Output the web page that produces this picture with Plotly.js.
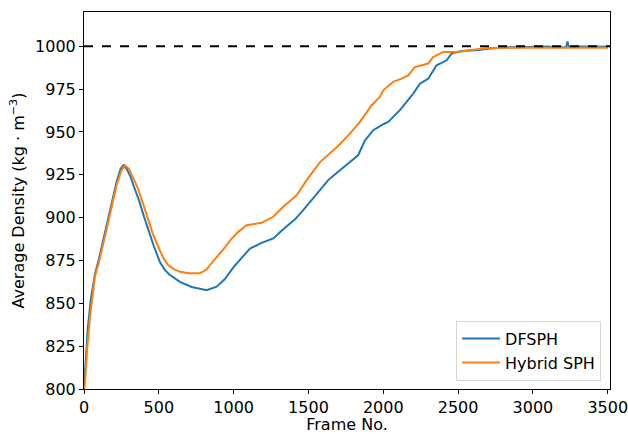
<!DOCTYPE html>
<html>
<head>
<meta charset="utf-8">
<script src="https://cdn.plot.ly/plotly-3.0.1.min.js"></script>
<style>html,body{margin:0;padding:0;background:#fff;}#chart{width:628px;height:434px;}</style>
</head>
<body>
<div id="chart"></div>
<script>
const dfsphFrames = [0,10,25,45,73,100,140,180,218,245,263,285,310,334,370,401,435,468,508,540,570,641,720,820,886,940,998,1050,1109,1187,1243,1265,1309,1354,1410,1465,1555,1632,1710,1777,1832,1877,1933,2000,2033,2111,2200,2245,2300,2356,2423,2456,2490,2560,2623,2712,2800,2900,3000,3050,3100,3150,3200,3222,3231,3240,3300,3400,3500];
const dfsphDensity = [800,815,835,852,867,876,891,907,921,928.5,930.5,928.5,924,918,909.5,900.6,891.5,883,874,869.5,866.8,862.5,859.5,857.7,859.7,864,871,876,882,885.3,887.3,887.9,891.5,894.6,899,904.4,914,921.9,927.7,932.5,936.4,945,951,954.5,955.9,962.7,972.4,978.2,981.1,988.9,991.8,995.7,996.7,997.5,997.7,998.7,999.3,999.5,999.7,999.4,999.8,999.4,999.7,999.5,1002.8,999.6,999.8,999.7,999.7];

const hybridFrames = [0,7,20,40,73,100,140,180,218,250,274,300,330,356,390,423,460,501,530,560,600,641,700,775,820,842,880,931,980,1031,1087,1187,1265,1331,1421,1488,1577,1640,1700,1777,1844,1922,1977,2000,2066,2122,2167,2211,2300,2333,2400,2490,2579,2668,2800,3000,3200,3500];
const hybridDensity = [800,803,822,842,865.5,874,889,905,919,927.5,930.6,928.5,922.5,918,909.5,900.6,890.5,882,876.5,872.5,870,868.4,867.6,867.5,869.8,872.3,876,881.5,887,891.7,895.6,897,900.5,906.3,913,921.9,932.4,937.5,942,949,955.9,965.6,970.4,974.3,979.2,981.1,983,987.9,989.9,993.7,996.7,996.7,997.7,998.7,999.2,999.3,999.2,999.2];

const seriesNames = ["DFSPH", "Hybrid SPH"];
const referenceDensity = 1000;
const xTicks = [0,500,1000,1500,2000,2500,3000,3500];
const yTicks = [800,825,850,875,900,925,950,975,1000];

const data = [
  {x: dfsphFrames, y: dfsphDensity, name: seriesNames[0], type: 'scatter', mode: 'lines',
   line: {color: '#1f77b4', width: 2}},
  {x: hybridFrames, y: hybridDensity, name: seriesNames[1], type: 'scatter', mode: 'lines',
   line: {color: '#ff7f0e', width: 2}}
];

const font = {family: 'DejaVu Sans, sans-serif', size: 16, color: '#000'};

const layout = {
  width: 628, height: 434,
  margin: {l: 84, r: 18, t: 12, b: 45},
  paper_bgcolor: '#fff', plot_bgcolor: '#fff',
  font: font,
  showlegend: true,
  legend: {x: 0.983, y: 0.022, xanchor: 'right', yanchor: 'bottom',
    bordercolor: '#d6d6d6', borderwidth: 1, bgcolor: 'rgba(255,255,255,0.8)',
    tracegroupgap: 0, itemwidth: 38,
    font: {family: 'DejaVu Sans, sans-serif', size: 16, color: '#000'}},
  xaxis: {
    range: [0, 3515], tickvals: xTicks, ticktext: xTicks.map(String),
    showgrid: false, zeroline: false, showline: true, mirror: true,
    linecolor: '#000', linewidth: 1, ticks: 'outside', ticklen: 4, tickcolor: '#000',
    ticklabeloverflow: 'allow',
    title: {text: 'Frame No.', font: font, standoff: 3}
  },
  yaxis: {
    range: [800, 1020], tickvals: yTicks, ticktext: yTicks.map(String),
    showgrid: false, zeroline: false, showline: true, mirror: true,
    linecolor: '#000', linewidth: 1, ticks: 'outside', ticklen: 4, tickcolor: '#000',
    title: {text: 'Average Density (kg · m<sup>−3</sup>)', font: font, standoff: 6}
  },
  shapes: [{type: 'line', xref: 'paper', x0: 0, x1: 1, yref: 'y', y0: referenceDensity, y1: referenceDensity,
    line: {color: '#000', width: 2, dash: 'dash'}}]
};

Plotly.newPlot('chart', data, layout, {displayModeBar: false, staticPlot: true});
</script>
</body>
</html>
